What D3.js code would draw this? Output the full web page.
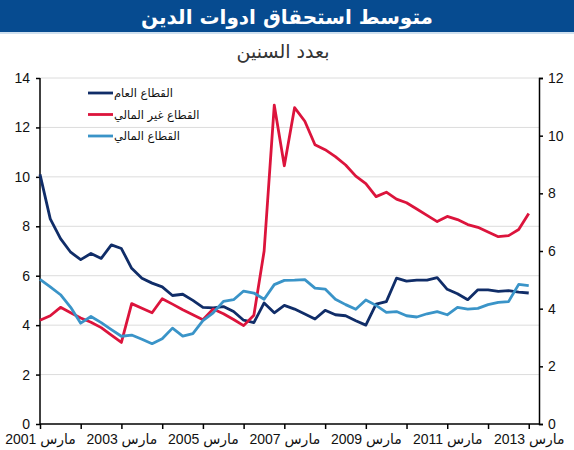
<!DOCTYPE html>
<html>
<head>
<meta charset="utf-8">
<script src="https://cdn.jsdelivr.net/npm/d3@7"></script>
<style>
  body { margin: 0; background: #fff; }
  text { font-family: "Liberation Sans", "DejaVu Sans", sans-serif; }
</style>
</head>
<body>
<div id="graph"></div>
<script>
const w = 574;
const h = 450;
const margin = { top: 78, bottom: 26, left: 40, right: 35 };

// quarterly observations, March 2001 .. March 2013 (years)
const publicSector = [10.1, 8.3, 7.5, 6.95, 6.65, 6.9, 6.7, 7.25, 7.1, 6.3, 5.9, 5.7, 5.55, 5.2, 5.25, 5.0, 4.72, 4.7, 4.75, 4.55, 4.2, 4.1, 4.9, 4.5, 4.8, 4.65, 4.45, 4.25, 4.6, 4.42, 4.38, 4.18, 4.0, 4.85, 4.95, 5.9, 5.78, 5.82, 5.82, 5.92, 5.45, 5.27, 5.03, 5.43, 5.43, 5.37, 5.4, 5.34, 5.3];
const nonFinancial = [4.2, 4.38, 4.72, 4.5, 4.29, 4.12, 3.9, 3.6, 3.3, 4.87, 4.68, 4.5, 5.07, 4.85, 4.62, 4.42, 4.22, 4.65, 4.46, 4.23, 3.98, 4.4, 7.0, 12.9, 10.45, 12.8, 12.25, 11.3, 11.1, 10.82, 10.48, 10.03, 9.73, 9.2, 9.38, 9.1, 8.95, 8.7, 8.44, 8.19, 8.4, 8.27, 8.07, 7.96, 7.77, 7.58, 7.62, 7.87, 8.52];
const financial = [5.85, 5.55, 5.23, 4.72, 4.08, 4.35, 4.1, 3.82, 3.55, 3.6, 3.43, 3.25, 3.45, 3.88, 3.56, 3.66, 4.18, 4.5, 4.96, 5.03, 5.38, 5.3, 5.05, 5.64, 5.81, 5.82, 5.84, 5.5, 5.46, 5.05, 4.83, 4.64, 5.02, 4.8, 4.52, 4.55, 4.38, 4.33, 4.46, 4.55, 4.42, 4.72, 4.65, 4.68, 4.83, 4.92, 4.95, 5.65, 5.6];

const seriesNames = ["القطاع العام", "القطاع غير المالي", "القطاع المالي"];
const seriesColors = ["#102d68", "#dc143c", "#3a94c8"];
const leftTicks = [0, 2, 4, 6, 8, 10, 12, 14];
const rightTicks = [0, 2, 4, 6, 8, 10, 12];
const labelYears = [2001, 2003, 2005, 2007, 2009, 2011, 2013];
const title = "متوسط استحقاق ادوات الدين";
const subtitle = "بعدد السنين";

const start = new Date(2001, 2, 1);
const end = new Date(2013, 5, 1);
const quarters = d3.timeMonth.range(start, new Date(2013, 3, 1), 3);
const years = d3.timeYear.range(new Date(2001, 0, 1), new Date(2014, 0, 1)).map((d) => new Date(d.getFullYear(), 2, 1));

const svg = d3.select("#graph").append("svg").attr("width", w).attr("height", h);

const x = d3.scaleTime().domain([start, end]).range([margin.left, w - margin.right]);
const y = d3.scaleLinear().domain([0, 14]).range([h - margin.bottom, margin.top]);
const y2 = d3.scaleLinear().domain([0, 12]).range([h - margin.bottom, margin.top]);

// banner
svg.append("rect").attr("x", 0).attr("y", 0).attr("width", w).attr("height", 32).attr("fill", "#064b90");
svg.append("rect").attr("x", 0).attr("y", 32).attr("width", w).attr("height", 2).attr("fill", "#cfe0ef");
svg.append("text").attr("x", w / 2).attr("y", 24).attr("text-anchor", "middle")
  .attr("fill", "#fff").attr("font-size", 20).attr("font-weight", "bold")
  .style("font-family", "'DejaVu Sans', sans-serif").text(title);
svg.append("text").attr("x", w / 2 - 4).attr("y", 58).attr("text-anchor", "middle")
  .attr("fill", "#333").attr("font-size", 19)
  .style("font-family", "'DejaVu Sans', sans-serif").text(subtitle);

// gridlines
svg.append("g").selectAll("line").data(leftTicks.filter((d) => d > 0)).enter().append("line")
  .attr("x1", margin.left).attr("x2", w - margin.right)
  .attr("y1", (d) => y(d)).attr("y2", (d) => y(d))
  .attr("stroke", "#dcdcdc").attr("stroke-width", 1);

// axes
const leftAxis = svg.append("g").attr("transform", `translate(${margin.left},0)`)
  .call(d3.axisLeft(y).tickValues(leftTicks).tickSize(4).tickPadding(6));
const rightAxis = svg.append("g").attr("transform", `translate(${w - margin.right},0)`)
  .call(d3.axisRight(y2).tickValues(rightTicks).tickSize(4).tickPadding(5));
const bottomAxis = svg.append("g").attr("transform", `translate(0,${h - margin.bottom})`)
  .call(d3.axisBottom(x).tickValues(years).tickSize(5).tickPadding(5)
    .tickFormat((d) => (labelYears.includes(d.getFullYear()) ? `مارس ${d.getFullYear()}` : "")));

[leftAxis, rightAxis, bottomAxis].forEach((a) => {
  a.selectAll("path, line").attr("stroke", "#000").attr("stroke-width", 1.5);
  a.selectAll("text").attr("fill", "#111").attr("font-size", 14)
    .style("font-family", "'Liberation Sans', 'DejaVu Sans', sans-serif");
});
bottomAxis.select(".domain").attr("d", `M${margin.left},0H${w - margin.right}`);
leftAxis.select(".domain").attr("d", `M0,${y(14)}V${y(0)}`);

// lines
const line = d3.line().x((d, i) => x(quarters[i])).y((d) => y(d));
[publicSector, nonFinancial, financial].forEach((s, i) => {
  svg.append("path").datum(s).attr("d", line).attr("fill", "none")
    .attr("stroke", seriesColors[i]).attr("stroke-width", 2.8).attr("stroke-linejoin", "round");
});

// legend
const legend = svg.append("g").attr("transform", "translate(88,93)");
seriesNames.forEach((name, i) => {
  const row = legend.append("g").attr("transform", `translate(0,${i * 21.5})`);
  row.append("line").attr("x1", 0).attr("x2", 25).attr("y1", 0).attr("y2", 0)
    .attr("stroke", seriesColors[i]).attr("stroke-width", 2.8);
  row.append("text").attr("x", 26).attr("y", 4).attr("font-size", 11.5).attr("fill", "#111")
    .style("font-family", "'DejaVu Sans', sans-serif").text(name);
});
</script>
</body>
</html>
